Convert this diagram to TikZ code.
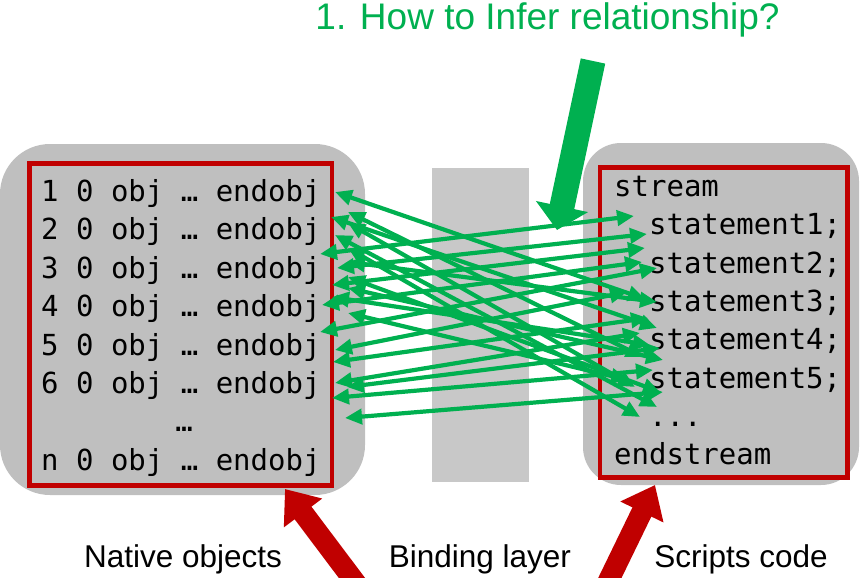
\documentclass[tikz,border=0pt]{standalone}
\usepackage{fontspec}
\setmainfont{Liberation Sans}
\newfontfamily\codefont{DejaVu Sans Mono}
\usetikzlibrary{arrows.meta}
\definecolor{lnkgreen}{HTML}{00B050}
\definecolor{darkred}{HTML}{C00000}
\definecolor{panelgray}{HTML}{BFBFBF}
\definecolor{layergray}{HTML}{C8C8C8}
\begin{document}
\begin{tikzpicture}[x=1pt,y=-1pt,
  panel/.style={fill=panelgray},
  redframe/.style={draw=darkred, line width=4.5pt},
  codeline/.style={font=\codefont\fontsize{29}{29}\selectfont, anchor=base west, inner sep=0pt},
  caption/.style={font=\fontsize{31.5}{32}\selectfont, anchor=base, inner sep=0pt},
  relarrow/.style={draw=lnkgreen, line width=4.2pt,
    {Triangle[length=17pt,width=15pt]}-{Triangle[length=17pt,width=15pt]}},
  bigarrow/.style={draw=lnkgreen, line width=25pt, -{Triangle[length=24pt,width=52pt]}},
  redarrow/.style={draw=darkred, line width=21pt, -{Triangle[length=30pt,width=46pt]}},
]
\useasboundingbox (0,0) rectangle (860,578);

% panels
\fill[panel, rounded corners=50pt] (0,144) rectangle (365,495);
\fill[panel, rounded corners=38pt] (583,143) rectangle (859,485);
\draw[redframe] (29.5,163.3) rectangle (332,485.5);
\draw[redframe] (600,167.5) rectangle (847.5,477.5);

% binding layer
\fill[layergray] (432,168) rectangle (529,482);

% native objects
\node[codeline] (o1) at (41,201.5) {1 0 obj … endobj};
\node[codeline] (o2) at (41,239.9) {2 0 obj … endobj};
\node[codeline] (o3) at (41,278.3) {3 0 obj … endobj};
\node[codeline] (o4) at (41,316.7) {4 0 obj … endobj};
\node[codeline] (o5) at (41,355.1) {5 0 obj … endobj};
\node[codeline] (o6) at (41,393.5) {6 0 obj … endobj};
\node[codeline, anchor=base] (odots) at (184,431.9) {…};
\node[codeline] (on) at (41,470.3) {n 0 obj … endobj};

% script code
\node[codeline] (s0) at (614,196.7) {stream};
\node[codeline] (s1) at (648.9,234.7) {statement1;};
\node[codeline] (s2) at (648.9,273) {statement2;};
\node[codeline] (s3) at (648.9,311.3) {statement3;};
\node[codeline] (s4) at (648.9,349.7) {statement4;};
\node[codeline] (s5) at (648.9,388) {statement5;};
\node[codeline] (sd) at (648.9,426.3) {...};
\node[codeline] (se) at (614,464.7) {endstream};

% bindings between objects and statements
\foreach \ax/\ay/\bx/\by [count=\i] in {
  320/254/634/216, 337/268/647/234, 332/285/645/248, 320/332/657/268,
  335/350/627/292, 333/362/648/318, 335/383/640/333, 347/387/660/348,
  332/398/653/370, 345/418/663/392,
  335/192/645/299, 331/217/657/328, 348/212/643/357, 348/223/635/387,
  335/235/657/407, 348/248/640/417, 348/277/660/392, 348/288/663/360,
  332/297/650/345, 348/313/628/380, 348/262/657/302, 322/305/642/262}
{
  \coordinate (p\i) at (\ax,\ay);
  \coordinate (q\i) at (\bx,\by);
  \draw[relarrow] (p\i) -- (q\i);
}

% question
\node[font=\fontsize{37}{37}\selectfont, text=lnkgreen, anchor=base, inner sep=0pt] (quest) at (547.5,30) {1. How to Infer relationship?};
\coordinate (qa) at (593,61);
\coordinate (qb) at (557,230);
\draw[bigarrow] (qa) -- (qb);

% captions
\node[caption] (nat) at (183,567) {Native objects};
\node[caption] (bind) at (480,567) {Binding layer};
\node[caption] (scr) at (741,567) {Scripts code};

% pointers to the two sides
\coordinate (ra) at (361,590);
\coordinate (rb) at (285,489);
\coordinate (rc) at (604,590);
\coordinate (rd) at (655,485);
\draw[redarrow] (ra) -- (rb);
\draw[redarrow] (rc) -- (rd);
\end{tikzpicture}
\end{document}
